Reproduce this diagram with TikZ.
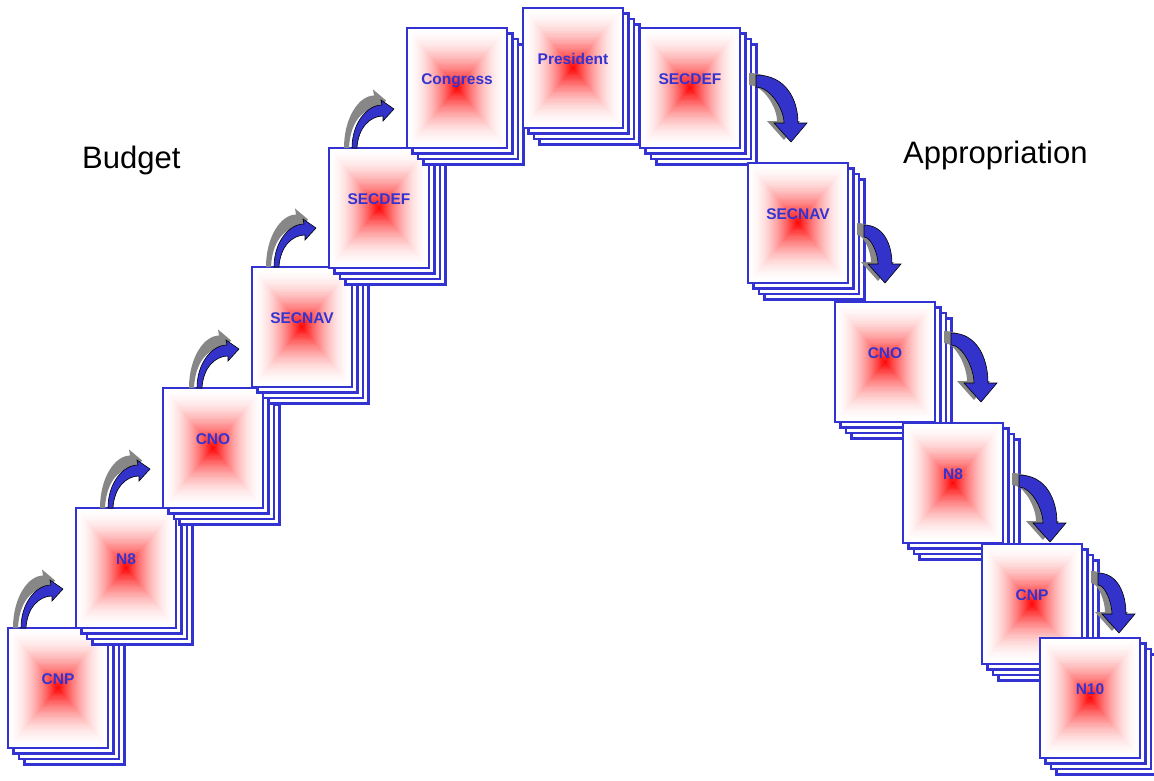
\documentclass[tikz,border=0pt]{standalone}
\usepackage{fontspec}
\setmainfont{Liberation Sans}
\usepackage{tikz}
\usetikzlibrary{calc}

\definecolor{cardblue}{RGB}{51,51,210}
\definecolor{arrowblue}{RGB}{51,51,204}
\definecolor{shadowgray}{RGB}{135,135,135}

% one stack of papers: name, x, y (top left), label
\newcommand{\docstack}[4]{%
  \foreach \k in {3,2,1}
    \draw[sheet] ($(#2,#3)+(\k*5.5,\k*5.5)$) rectangle ++(100,120);
  % pyramid gradient, white rim to red centre
  \foreach \i [evaluate=\i as \p using {100*(\i/50)^1.8}] in {0,...,49}
    \fill[red!\p] ($(#2,#3)+(\i,1.2*\i)$) rectangle ($(#2,#3)+(100-\i,120-1.2*\i)$);
  \node[card] (#1) at (#2,#3) {#4};
}

\begin{document}
\begin{tikzpicture}[x=1pt, y=-1pt,
    sheet/.style={draw=cardblue, line width=2.2pt, fill=white},
    card/.style={draw=cardblue, line width=2.2pt, anchor=north west, outer sep=0pt,
      minimum width=100pt, minimum height=120pt, inner sep=0pt,
      text=cardblue, font=\bfseries\fontsize{15.5}{18}\selectfont,
      text height=11pt, text depth=18pt},
    heading/.style={inner sep=0pt, anchor=base west, font=\fontsize{31}{37}\selectfont},
    upcurve/.pic={
      \fill[shadowgray, shift={(-8,0)}, yscale=1.22] (0,0) .. controls (0,-25) and (15,-43) .. (30,-43) -- (29,-48) -- (42,-39) -- (31,-27) -- (31,-32) .. controls (18,-32) and (6,-20) .. (5,0) -- cycle;
      \filldraw[fill=arrowblue, draw=black, line width=0.6pt] (0,0) .. controls (0,-25) and (15,-43) .. (30,-43) -- (29,-48) -- (42,-39) -- (31,-27) -- (31,-32) .. controls (18,-32) and (6,-20) .. (5,0) -- cycle;
    },
    downcurve/.pic={
      \fill[shadowgray, shift={(-7,-2)}] (-\w,-\h) .. controls ({-\w+0.7*(\w+7)},-\h) and (7,{-19-0.5*(\h-19)}) .. (7,-19) -- (16,-19) -- (0,0) -- (-17,-19) -- (-7,-19) .. controls (-7,{-19-0.4*(\h-32)}) and ({-\w+0.5*(\w-7)},{-\h+12}) .. (-\w,{-\h+12}) -- cycle;
      \filldraw[fill=arrowblue, draw=black, line width=0.6pt] (-\w,-\h) .. controls ({-\w+0.7*(\w+7)},-\h) and (7,{-19-0.5*(\h-19)}) .. (7,-19) -- (16,-19) -- (0,0) -- (-17,-19) -- (-7,-19) .. controls (-7,{-19-0.4*(\h-32)}) and ({-\w+0.5*(\w-7)},{-\h+12}) .. (-\w,{-\h+12}) -- cycle;
    }
]
\useasboundingbox (0,0) rectangle (1154,780);

% Budget side
\docstack{cnpL}{8}{628}{CNP}
\docstack{n8L}{76}{508}{N8}
\docstack{cnoL}{163}{388}{CNO}
\docstack{secnavL}{252}{267}{SECNAV}
\docstack{secdefL}{329}{148}{SECDEF}
\docstack{congress}{407}{28}{Congress}

% top
\docstack{president}{523}{8}{President}

% Appropriation side
\docstack{secdefR}{640}{28}{SECDEF}
\docstack{secnavR}{748}{163}{SECNAV}
\docstack{cnoR}{835}{302}{CNO}
\docstack{n8R}{903}{423}{N8}
\docstack{cnpR}{982}{544}{CNP}
\docstack{n10R}{1040}{638}{N10}

\node[heading] (budget) at (82,168) {Budget};
\node[heading] (approp) at (903,163) {Appropriation};

% Arrows
\foreach \a/\b in {cnpL/n8L, n8L/cnoL, cnoL/secnavL, secnavL/secdefL, secdefL/congress}
  \pic at ($(\a.north -| \b.west)+(-55,0)$) {upcurve};
\foreach \a/\sy/\w/\h in {secdefR/47/35/67, secnavR/62/21/58, cnoR/31/30/69, n8R/52/31/67, cnpR/29/21/60}
  \pic at ($(\a.north east)+(16+\w,\sy+\h)$) {downcurve};

\end{tikzpicture}
\end{document}
